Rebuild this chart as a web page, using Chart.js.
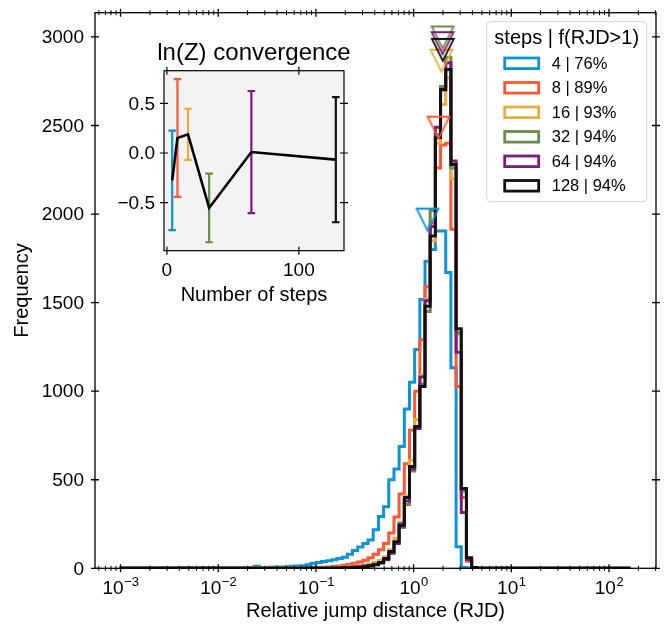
<!DOCTYPE html>
<html><head><meta charset="utf-8">
<script src="https://cdn.jsdelivr.net/npm/chart.js@4"></script>
<style>
html,body{margin:0;padding:0;background:#fff;}
#wrap{position:relative;width:665px;height:626px;}
canvas{position:absolute;left:0;top:0;}
</style>
</head><body>
<div id="wrap"><canvas id="main" width="665" height="626"></canvas><canvas id="inset" width="665" height="626"></canvas></div>
<script>
// ---------------- data ----------------
const STEPS = [4, 8, 16, 32, 64, 128];
const SERIES_LABELS = ['4 | 76%', '8 | 89%', '16 | 93%', '32 | 94%', '64 | 94%', '128 | 94%'];
const LEGEND_TITLE = 'steps | f(RJD>1)';
const COLORS = ['#0c93d9', '#ff5530', '#eaad3b', '#6a8e4a', '#80197f', '#111111'];

// histogram bin edges (RJD), log-spaced
const BIN_EDGES = [0.001, 0.0207, 0.0233, 0.0264, 0.0298, 0.0337, 0.0380, 0.0430, 0.0485, 0.0548, 0.0619,
  0.0700, 0.0791, 0.0893, 0.101, 0.114, 0.129, 0.146, 0.164, 0.186, 0.210,
  0.237, 0.268, 0.303, 0.342, 0.386, 0.437, 0.493, 0.557, 0.630, 0.711,
  0.804, 0.908, 1.026, 1.159, 1.309, 1.479, 1.671, 1.888, 2.133, 2.410,
  2.723, 3.076, 3.475, 3.926, 4.436, 5.012, 166];

const COUNTS_4 = [0, 3,4,12,5,5,6,7,8,9,11, 13,15,20,28,33,38,42,48,55,62,
  80,100,120,140,160,217,292,348,500,560, 688,900,1050,1235,1518,1734,1800,1904,1904,1670,
  1132,122,5,2,0, 0];
const COUNTS_8 = [0, 0,0,0,0,0,0,0,0,1,1, 2,2,3,4,5,6,8,10,13,17,
  22,28,35,45,60,80,105,140,200,290, 420,590,780,1000,1290,1590,1950,2260,2390,2400,
  1915,1027,400,40,4, 0];
const COUNTS_16 = [0, 0,0,0,0,0,0,0,0,0,1, 1,1,2,2,3,3,4,5,6,7,
  9,11,14,18,24,33,45,65,105,170, 260,410,610,840,1090,1520,1850,2400,2620,2770,
  2200,1320,430,55,5, 0];
const COUNTS_32 = [0, 0,0,0,0,0,0,0,0,0,0, 0,1,1,1,2,2,3,3,4,5,
  6,8,10,13,17,23,32,50,88,145, 230,360,550,790,1040,1450,2020,2450,2720,2885,
  2260,1330,440,55,5, 0];
const COUNTS_64 = [0, 0,0,0,0,0,0,0,0,0,0, 0,0,1,1,1,2,2,3,3,4,
  5,7,9,12,16,22,30,48,85,140, 250,380,560,790,1080,1510,1930,2490,2700,2855,
  2300,1220,315,50,5, 0];
const COUNTS_128 = [0, 0,0,0,0,0,0,0,0,0,0, 0,0,0,0,0,0,0,0,0,1,
  2,3,5,8,13,20,33,55,95,150, 240,400,575,801,1027,1480,1876,2432,2704,2817,
  2280,1352,450,60,5, 0];
const ALL_COUNTS = [COUNTS_4, COUNTS_8, COUNTS_16, COUNTS_32, COUNTS_64, COUNTS_128];

// triangle markers (x = typical RJD, y = marker height)
const MARKER_RJD = [1.39, 1.80, 1.93, 1.98, 1.98, 1.99];
const MARKER_Y = [1969, 2488, 2866, 2997, 2965, 2927];

// inset: ln(Z) convergence
const LNZ = [-0.275, 0.151, 0.188, -0.553, 0.010, -0.067];
const LNZ_ERR = [0.500, 0.592, 0.257, 0.345, 0.614, 0.630];

const Y_TICKS = [0, 500, 1000, 1500, 2000, 2500, 3000];
const X_TICK_EXP = [-3, -2, -1, 0, 1, 2];
const INSET_X_TICKS = [0, 100];
const INSET_Y_TICKS = [-0.5, 0.0, 0.5];

const FONT = "'Liberation Sans', Arial, Helvetica, sans-serif";

// ---------------- helpers ----------------
function histData(counts) {
  const pts = counts.map((c, i) => ({x: BIN_EDGES[i], y: c}));
  pts.push({x: BIN_EDGES[BIN_EDGES.length - 1], y: 0});
  return pts;
}
function triangleMarker(color) {
  const w = 22, h = 22, pad = 2;
  const c = document.createElement('canvas');
  c.width = w + 2 * pad; c.height = h + 2 * pad;
  const g = c.getContext('2d');
  g.strokeStyle = color; g.lineWidth = 1.8; g.lineJoin = 'miter';
  g.beginPath(); g.moveTo(pad, pad); g.lineTo(pad + w, pad); g.lineTo(pad + w / 2, pad + h); g.closePath(); g.stroke();
  return c;
}
function fmtMinus(v) { return v < 0 ? '\u2212' + Math.abs(v).toFixed(1) : v.toFixed(1); }

// ---------------- main chart ----------------
const mainDecor = {
  id: 'mainDecor',
  afterDraw(chart) {
    const {ctx, chartArea: a, scales: {x, y}} = chart;
    ctx.save();
    ctx.strokeStyle = '#000'; ctx.fillStyle = '#000';
    ctx.lineWidth = 1.3;
    ctx.strokeRect(a.left, a.top, a.right - a.left, a.bottom - a.top);
    // y ticks
    ctx.font = `19px ${FONT}`; ctx.textAlign = 'right'; ctx.textBaseline = 'middle';
    Y_TICKS.forEach(v => {
      const py = y.getPixelForValue(v);
      ctx.beginPath();
      ctx.moveTo(a.left - 4, py); ctx.lineTo(a.left + 4, py);
      ctx.moveTo(a.right - 4, py); ctx.lineTo(a.right + 4, py);
      ctx.stroke();
      ctx.fillText(String(v), a.left - 11, py + 1);
    });
    // x major ticks
    X_TICK_EXP.forEach(k => {
      const px = x.getPixelForValue(Math.pow(10, k));
      ctx.beginPath();
      ctx.moveTo(px, a.bottom - 4); ctx.lineTo(px, a.bottom + 4);
      ctx.moveTo(px, a.top - 4); ctx.lineTo(px, a.top + 4);
      ctx.stroke();
      const base = '10', ex = (k < 0 ? '\u2212' : '') + Math.abs(k);
      ctx.font = `19px ${FONT}`; const wb = ctx.measureText(base).width;
      ctx.font = `13px ${FONT}`; const we = ctx.measureText(ex).width;
      const start = px - (wb + we) / 2;
      ctx.textAlign = 'left'; ctx.textBaseline = 'alphabetic';
      ctx.font = `19px ${FONT}`; ctx.fillText(base, start, 594);
      ctx.font = `13px ${FONT}`; ctx.fillText(ex, start + wb + 0.5, 586);
    });
    // x minor ticks
    ctx.lineWidth = 1;
    for (let k = -4; k <= 2; k++) {
      for (let m = 2; m <= 9; m++) {
        const v = m * Math.pow(10, k);
        if (v < x.min || v > x.max) continue;
        const px = x.getPixelForValue(v);
        ctx.beginPath();
        ctx.moveTo(px, a.bottom - 2.5); ctx.lineTo(px, a.bottom + 2.5);
        ctx.moveTo(px, a.top - 2.5); ctx.lineTo(px, a.top + 2.5);
        ctx.stroke();
      }
    }
    // axis labels
    ctx.font = `20px ${FONT}`; ctx.textAlign = 'center'; ctx.textBaseline = 'middle';
    ctx.fillText('Relative jump distance (RJD)', (a.left + a.right) / 2, 611);
    ctx.save(); ctx.translate(22, (a.top + a.bottom) / 2); ctx.rotate(-Math.PI / 2);
    ctx.fillText('Frequency', 0, 0); ctx.restore();
    // legend
    const lx = 486.7, ly = 21.7, lw = 160, lh = 180;
    ctx.beginPath(); ctx.roundRect(lx, ly, lw, lh, 4);
    ctx.fillStyle = 'rgba(255,255,255,0.85)'; ctx.fill();
    ctx.strokeStyle = '#d4d4d4'; ctx.lineWidth = 1; ctx.stroke();
    ctx.fillStyle = '#000'; ctx.font = `20px ${FONT}`; ctx.textAlign = 'center';
    ctx.fillText(LEGEND_TITLE, lx + lw / 2, 38.8);
    ctx.textAlign = 'left'; ctx.font = `16.5px ${FONT}`;
    SERIES_LABELS.forEach((lab, i) => {
      const yc = 63.3 + i * 24.5;
      ctx.strokeStyle = COLORS[i]; ctx.lineWidth = 2.8;
      ctx.strokeRect(504.7, yc - 5.3, 34, 10.6);
      ctx.fillStyle = '#000';
      ctx.fillText(lab, 551.7, yc + 1);
    });
    ctx.restore();
  }
};

const markerDataset = {
  type: 'line', label: 'markers', showLine: false,
  data: MARKER_RJD.map((v, i) => ({x: v, y: MARKER_Y[i]})),
  pointStyle: COLORS.map(triangleMarker),
  pointRadius: 8, order: 0, clip: false
};

new Chart(document.getElementById('main'), {
  type: 'line',
  data: {
    datasets: ALL_COUNTS.map((c, i) => ({
      label: SERIES_LABELS[i], data: histData(c), stepped: 'after',
      borderColor: COLORS[i], borderWidth: 3, pointRadius: 0, fill: false,
      order: 10 - i, borderJoinStyle: 'miter'
    })).concat([markerDataset])
  },
  options: {
    responsive: false, animation: false, devicePixelRatio: 1,
    layout: {padding: {left: 95, top: 12.7, right: 9, bottom: 57.7}},
    parsing: true,
    plugins: {legend: {display: false}, tooltip: {enabled: false}},
    scales: {
      x: {type: 'logarithmic', display: false, min: 5.48e-4, max: 303},
      y: {type: 'linear', display: false, min: 0, max: 3137}
    }
  },
  plugins: [mainDecor]
});

// ---------------- inset chart ----------------
const insetDecor = {
  id: 'insetDecor',
  beforeDraw(chart) {
    const {ctx, chartArea: a} = chart;
    ctx.save(); ctx.fillStyle = '#f3f3f3';
    ctx.fillRect(a.left, a.top, a.right - a.left, a.bottom - a.top); ctx.restore();
  },
  beforeDatasetsDraw(chart) {
    const {ctx, scales: {x, y}} = chart;
    ctx.save(); ctx.lineWidth = 2.2;
    STEPS.forEach((s, i) => {
      const px = x.getPixelForValue(s);
      const y1 = y.getPixelForValue(LNZ[i] + LNZ_ERR[i]);
      const y2 = y.getPixelForValue(LNZ[i] - LNZ_ERR[i]);
      ctx.strokeStyle = COLORS[i];
      ctx.beginPath();
      ctx.moveTo(px, y1); ctx.lineTo(px, y2);
      ctx.moveTo(px - 3.8, y1); ctx.lineTo(px + 3.8, y1);
      ctx.moveTo(px - 3.8, y2); ctx.lineTo(px + 3.8, y2);
      ctx.stroke();
    });
    ctx.restore();
  },
  afterDraw(chart) {
    const {ctx, chartArea: a, scales: {x, y}} = chart;
    ctx.save();
    ctx.strokeStyle = '#000'; ctx.fillStyle = '#000'; ctx.lineWidth = 1.2;
    ctx.strokeRect(a.left, a.top, a.right - a.left, a.bottom - a.top);
    ctx.font = `19px ${FONT}`;
    ctx.textAlign = 'right'; ctx.textBaseline = 'middle';
    INSET_Y_TICKS.forEach(v => {
      const py = y.getPixelForValue(v);
      ctx.beginPath();
      ctx.moveTo(a.left - 4, py); ctx.lineTo(a.left + 4, py);
      ctx.moveTo(a.right - 4, py); ctx.lineTo(a.right + 4, py);
      ctx.stroke();
      ctx.fillText(fmtMinus(v), a.left - 9, py + 1);
    });
    ctx.textAlign = 'center'; ctx.textBaseline = 'top';
    INSET_X_TICKS.forEach(v => {
      const px = x.getPixelForValue(v);
      ctx.beginPath();
      ctx.moveTo(px, a.bottom - 4); ctx.lineTo(px, a.bottom + 4);
      ctx.moveTo(px, a.top - 4); ctx.lineTo(px, a.top + 4);
      ctx.stroke();
      ctx.fillText(String(v), px, a.bottom + 11);
    });
    ctx.textBaseline = 'middle'; ctx.font = `20px ${FONT}`;
    ctx.fillText('Number of steps', (a.left + a.right) / 2, 295);
    ctx.textBaseline = 'alphabetic'; ctx.font = `24px ${FONT}`;
    ctx.fillText('ln(Z) convergence', (a.left + a.right) / 2, 60);
    ctx.restore();
  }
};

new Chart(document.getElementById('inset'), {
  type: 'line',
  data: {
    datasets: [{
      label: 'ln(Z)', data: STEPS.map((s, i) => ({x: s, y: LNZ[i]})),
      borderColor: '#000', borderWidth: 2.6, pointRadius: 0, fill: false, tension: 0
    }]
  },
  options: {
    responsive: false, animation: false, devicePixelRatio: 1,
    layout: {padding: {left: 164, top: 70.7, right: 321, bottom: 375.3}},
    plugins: {legend: {display: false}, tooltip: {enabled: false}},
    scales: {
      x: {type: 'linear', display: false, min: -2.2, max: 134.2},
      y: {type: 'linear', display: false, min: -0.983, max: 0.828}
    }
  },
  plugins: [insetDecor]
});
</script>
</body></html>
